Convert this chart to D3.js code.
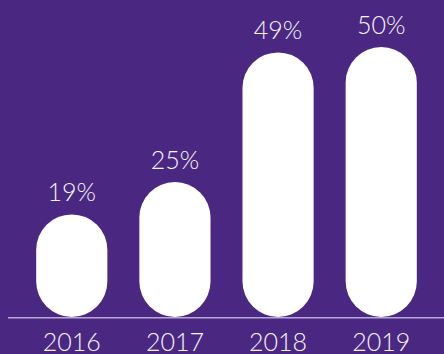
<!DOCTYPE html>
<html>
<head>
<meta charset="utf-8">
<script src="https://cdn.jsdelivr.net/npm/d3@7"></script>
<style>
  html, body { margin: 0; padding: 0; background: #4a2882; }
  svg { display: block; }
  text { font-family: Lato, "Open Sans", sans-serif; font-weight: 300; fill: #f6f4fa; }
</style>
</head>
<body>
<svg id="chart" width="444" height="354"></svg>
<script>
// Share by year
const years = ["2016", "2017", "2018", "2019"];
const shares = [19, 25, 49, 50];

const W = 444, H = 354;
const baseY = 317;

const svg = d3.select("#chart");
svg.append("rect").attr("width", W).attr("height", H).attr("fill", "#4a2882");

const x = d3.scaleBand()
  .domain(years)
  .range([20.2, 432.8])
  .paddingInner(0.31)
  .paddingOuter(0.155);

const y = d3.scaleLinear().domain([0, 50]).range([baseY, 47]);

const bw = x.bandwidth();
const r = bw / 2;

// Pill-shaped bars, rounded at both ends, sitting on the baseline
svg.append("g").selectAll("rect")
  .data(years)
  .join("rect")
  .attr("x", d => x(d))
  .attr("y", (d, i) => y(shares[i]))
  .attr("width", bw)
  .attr("height", (d, i) => baseY - y(shares[i]))
  .attr("rx", r)
  .attr("ry", r)
  .attr("fill", "#ffffff");

// Baseline
svg.append("line")
  .attr("x1", 8).attr("x2", W)
  .attr("y1", baseY + 0.8).attr("y2", baseY + 0.8)
  .attr("stroke", "#b8a8d8")
  .attr("stroke-width", 1.5);

// Value labels
svg.append("g").selectAll("text")
  .data(years)
  .join("text")
  .attr("x", d => x(d) + r)
  .attr("y", (d, i) => y(shares[i]) - 13)
  .attr("text-anchor", "middle")
  .attr("font-size", 25)
  .text((d, i) => shares[i] + "%");

// Year labels
svg.append("g").selectAll("text")
  .data(years)
  .join("text")
  .attr("x", d => x(d) + r)
  .attr("y", 351)
  .attr("text-anchor", "middle")
  .attr("font-size", 25)
  .text(d => d);
</script>
</body>
</html>
